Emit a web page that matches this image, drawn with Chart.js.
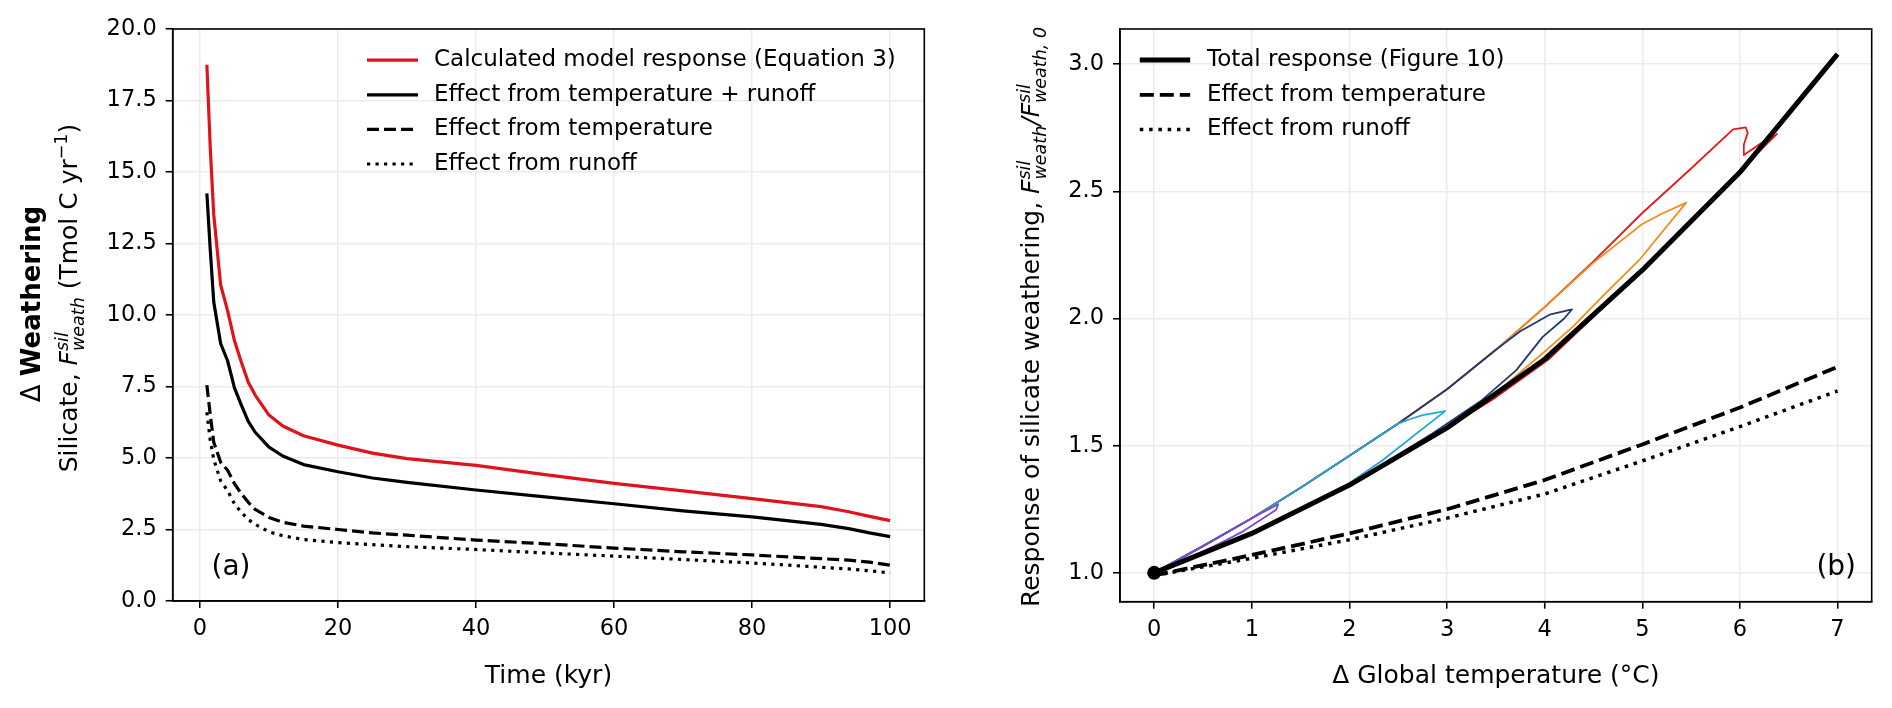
<!DOCTYPE html>
<html>
<head>
<meta charset="utf-8">
<script src="https://cdn.jsdelivr.net/npm/chart.js@4.4.1/dist/chart.umd.min.js"></script>
<style>
  html, body { margin: 0; padding: 0; background: #fff; }
  #wrap { position: relative; width: 1892px; height: 708px; }
  canvas { position: absolute; top: 0; }
  #leftCanvas { left: 0; }
  #rightCanvas { left: 946px; }
</style>
</head>
<body>
<div id="wrap">
  <canvas id="leftCanvas" width="946" height="708"></canvas>
  <canvas id="rightCanvas" width="946" height="708"></canvas>
</div>
<script>
// ==========================================================
// Panel (a) data - weathering vs time
// ==========================================================
const timeKyr       = [1, 1.5, 2, 3, 4, 5, 6, 7, 8, 10, 12, 15, 20, 25, 30, 40, 50, 60, 70, 80, 90, 94, 97, 100];
const modelResponse = [18.75, 15.8, 13.5, 11.05, 10.15, 9.1, 8.35, 7.65, 7.2, 6.5, 6.12, 5.78, 5.45, 5.17, 4.98, 4.74, 4.42, 4.11, 3.85, 3.58, 3.3, 3.12, 2.96, 2.81];
const tempRunoff    = [14.25, 12.25, 10.45, 9.0, 8.4, 7.45, 6.85, 6.28, 5.9, 5.38, 5.07, 4.77, 4.52, 4.3, 4.15, 3.88, 3.64, 3.4, 3.15, 2.94, 2.68, 2.53, 2.38, 2.25];
const tempEffect    = [7.55, 6.5, 5.55, 4.85, 4.57, 4.1, 3.75, 3.45, 3.2, 2.92, 2.75, 2.62, 2.5, 2.38, 2.3, 2.13, 2.0, 1.85, 1.72, 1.61, 1.48, 1.43, 1.36, 1.25];
const runoffEffect  = [6.6, 5.6, 4.95, 4.2, 3.86, 3.4, 3.1, 2.85, 2.68, 2.42, 2.28, 2.15, 2.04, 1.97, 1.9, 1.8, 1.68, 1.57, 1.45, 1.33, 1.18, 1.12, 1.06, 0.98];
const timeTicks     = [0, 20, 40, 60, 80, 100];
const weathTicks    = [0, 2.5, 5, 7.5, 10, 12.5, 15, 17.5, 20];

// ==========================================================
// Panel (b) data - response vs warming
// ==========================================================
const tempC        = [0, 1, 2, 3, 4, 5, 6, 7];
const totalResp    = [1.0, 1.155, 1.345, 1.57, 1.84, 2.19, 2.575, 3.04];
const tempOnly     = [0.99, 1.07, 1.155, 1.25, 1.365, 1.505, 1.65, 1.81];
const runoffOnly   = [0.99, 1.057, 1.13, 1.215, 1.31, 1.44, 1.575, 1.715];
const originT      = [0];
const originR      = [1.0];

const loopPurpleT = [0, 0.5, 1.0, 1.27, 1.25, 0.9, 0.73, 0.4, 0];
const loopPurpleR = [1.0, 1.105, 1.215, 1.27, 1.248, 1.161, 1.127, 1.065, 1.0];
const loopCyanT   = [0, 0.5, 1.0, 1.5, 2.0, 2.5, 2.61, 2.75, 2.98, 2.34, 1.99, 1.5, 1.0, 0.5, 0];
const loopCyanR   = [1.0, 1.105, 1.215, 1.335, 1.46, 1.587, 1.603, 1.62, 1.636, 1.443, 1.35, 1.252, 1.157, 1.079, 1.0];
const loopNavyT   = [0, 0.5, 1.0, 1.5, 2.0, 2.5, 3.0, 3.5, 3.75, 4.05, 4.28, 4.2, 3.98, 3.71, 3.36, 2.85, 2.0, 1.0, 0];
const loopNavyR   = [1.0, 1.105, 1.215, 1.335, 1.46, 1.587, 1.722, 1.877, 1.95, 2.015, 2.036, 2.0, 1.928, 1.797, 1.68, 1.548, 1.347, 1.157, 1.0];
const loopOrangeT = [0, 0.5, 1.0, 1.5, 2.0, 2.5, 3.0, 3.5, 4.0, 4.5, 5.0, 5.2, 5.45, 4.98, 4.6, 4.29, 4.0, 3.57, 3.0, 2.0, 1.0, 0];
const loopOrangeR = [1.0, 1.105, 1.215, 1.335, 1.46, 1.587, 1.722, 1.877, 2.045, 2.22, 2.372, 2.412, 2.456, 2.235, 2.09, 1.968, 1.87, 1.73, 1.572, 1.347, 1.157, 1.0];
const loopRedT    = [0, 0.5, 1.0, 1.5, 2.0, 2.5, 3.0, 3.5, 4.0, 4.5, 5.0, 5.5, 5.93, 6.06, 6.08, 6.04, 6.04, 6.22, 6.38, 6.1, 5.0, 4.05, 3.9, 3.5, 3.0, 2.0, 1.0, 0];
const loopRedR    = [1.0, 1.105, 1.215, 1.335, 1.46, 1.587, 1.722, 1.877, 2.045, 2.225, 2.415, 2.59, 2.744, 2.752, 2.73, 2.683, 2.643, 2.69, 2.726, 2.62, 2.19, 1.842, 1.8, 1.69, 1.57, 1.345, 1.155, 1.0];
const tempTicks   = [0, 1, 2, 3, 4, 5, 6, 7];
const respTicks   = [1.0, 1.5, 2.0, 2.5, 3.0];

// ==========================================================
// helpers
// ==========================================================
const FONT = "DejaVu Sans";
const RED = "#e0131d";

function toXY(xs, ys) {
  return xs.map((x, i) => ({ x: x, y: ys[i] }));
}

function fontOf(p) {
  return `${p.style || "normal"} ${p.weight || "normal"} ${p.size}px "${FONT}"`;
}

function partWidth(ctx, p) {
  if (p.stack) {
    return Math.max(...p.stack.map((q) => {
      ctx.font = fontOf(q);
      return ctx.measureText(q.text).width;
    }));
  }
  ctx.font = fontOf(p);
  return ctx.measureText(p.text).width;
}

// draws one line of mixed text rotated 90deg, baseline at baseX, centred on centerY
function drawRotatedLine(ctx, parts, baseX, centerY) {
  ctx.save();
  ctx.translate(baseX, centerY);
  ctx.rotate(-Math.PI / 2);
  ctx.textBaseline = "alphabetic";
  ctx.textAlign = "left";
  ctx.fillStyle = "#000";
  const total = parts.reduce((s, p) => s + partWidth(ctx, p), 0);
  let x = -total / 2;
  parts.forEach((p) => {
    const w = partWidth(ctx, p);
    (p.stack || [p]).forEach((q) => {
      ctx.font = fontOf(q);
      ctx.fillText(q.text, x, q.dy || 0);
    });
    x += w;
  });
  ctx.restore();
}

const framePlugin = {
  id: "frame",
  afterDraw(chart) {
    const { ctx, chartArea: a } = chart;
    ctx.save();
    ctx.strokeStyle = "#000";
    ctx.lineWidth = 1.6;
    ctx.strokeRect(a.left, a.top, a.right - a.left, a.bottom - a.top);
    ctx.restore();
  },
};

const insideLegend = {
  id: "insideLegend",
  afterDraw(chart, args, opts) {
    const ctx = chart.ctx;
    ctx.save();
    ctx.font = `23px "${FONT}"`;
    ctx.textBaseline = "middle";
    ctx.textAlign = "left";
    opts.items.forEach((it, i) => {
      const y = opts.y + i * opts.rowGap;
      ctx.beginPath();
      ctx.strokeStyle = it.color;
      ctx.lineWidth = it.width;
      ctx.setLineDash(it.dash || []);
      ctx.moveTo(opts.x0, y);
      ctx.lineTo(opts.x1, y);
      ctx.stroke();
      ctx.setLineDash([]);
      ctx.fillStyle = "#000";
      ctx.fillText(it.text, opts.textX, y);
    });
    ctx.restore();
  },
};

const richTitles = {
  id: "richTitles",
  afterDraw(chart, args, opts) {
    const ctx = chart.ctx;
    opts.lines.forEach((l) => drawRotatedLine(ctx, l.parts, l.x, l.y));
    ctx.save();
    ctx.font = `28px "${FONT}"`;
    ctx.fillStyle = "#000";
    ctx.textBaseline = "alphabetic";
    ctx.textAlign = opts.tag.align;
    ctx.fillText(opts.tag.text, opts.tag.x, opts.tag.y);
    ctx.restore();
  },
};

function axisX(min, max, ticks, title) {
  return {
    type: "linear",
    min: min,
    max: max,
    afterBuildTicks: (s) => { s.ticks = ticks.map((v) => ({ value: v })); },
    afterFit: (s) => { s.height = 90; },
    grid: { color: "#ebebeb", lineWidth: 1.5, tickColor: "#000", tickWidth: 1.6, tickLength: 7 },
    border: { color: "#000", width: 1.6 },
    ticks: { font: { family: FONT, size: 22.5 }, color: "#000", padding: 8, maxRotation: 0, autoSkip: false,
             callback: (v) => String(v) },
    title: { display: true, text: title, font: { family: FONT, size: 25 }, color: "#000", padding: 0 },
  };
}

function axisY(min, max, ticks) {
  return {
    type: "linear",
    min: min,
    max: max,
    afterBuildTicks: (s) => { s.ticks = ticks.map((v) => ({ value: v })); },
    afterFit: (s) => { s.width = 70; },
    grid: { color: "#ebebeb", lineWidth: 1.5, tickColor: "#000", tickWidth: 1.6, tickLength: 7 },
    border: { color: "#000", width: 1.6 },
    ticks: { font: { family: FONT, size: 22.5 }, color: "#000", padding: 9, autoSkip: false,
             callback: (v) => v.toFixed(1) },
  };
}

function line(data, color, width, dash) {
  return {
    data: data,
    showLine: true,
    borderColor: color,
    backgroundColor: color,
    borderWidth: width,
    borderDash: dash || [],
    pointRadius: 0,
    pointHoverRadius: 0,
    fill: false,
    borderJoinStyle: "round",
  };
}

// ==========================================================
// Panel (a)
// ==========================================================
new Chart(document.getElementById("leftCanvas"), {
  type: "scatter",
  data: {
    datasets: [
      line(toXY(timeKyr, modelResponse), RED, 3.2),
      line(toXY(timeKyr, tempRunoff), "#000", 3.2),
      line(toXY(timeKyr, tempEffect), "#000", 3.2, [12, 5]),
      line(toXY(timeKyr, runoffEffect), "#000", 3.2, [3.2, 5.3]),
    ],
  },
  options: {
    responsive: false,
    animation: false,
    events: [],
    layout: { padding: { left: 102.7, right: 21.7, top: 29, bottom: 17 } },
    plugins: {
      legend: { display: false },
      tooltip: { enabled: false },
      insideLegend: {
        x0: 367, x1: 418, textX: 434, y: 60.2, rowGap: 34.6,
        items: [
          { text: "Calculated model response (Equation 3)", color: RED, width: 3.2 },
          { text: "Effect from temperature + runoff", color: "#000", width: 3.2 },
          { text: "Effect from temperature", color: "#000", width: 3.2, dash: [12, 5] },
          { text: "Effect from runoff", color: "#000", width: 3.2, dash: [3.2, 5.3] },
        ],
      },
      richTitles: {
        lines: [
          { x: 40, y: 304, parts: [
            { text: "\u0394 ", size: 26 },
            { text: "Weathering", size: 26, weight: "bold" },
          ] },
          { x: 77, y: 298, parts: [
            { text: "Silicate, ", size: 25 },
            { text: "F", size: 25, style: "italic" },
            { stack: [
              { text: "sil", size: 17.5, style: "italic", dy: -9.5 },
              { text: "weath", size: 17.5, style: "italic", dy: 6.5 },
            ] },
            { text: " (Tmol C yr", size: 25 },
            { text: "\u22121", size: 17.5, dy: -10 },
            { text: ")", size: 25 },
          ] },
        ],
        tag: { text: "(a)", x: 211.5, y: 575.3, align: "left" },
      },
    },
    scales: {
      x: axisX(-3.95, 104.95, timeTicks, "Time (kyr)"),
      y: axisY(0, 20, weathTicks),
    },
  },
  plugins: [framePlugin, insideLegend, richTitles],
});

// ==========================================================
// Panel (b)
// ==========================================================
const originSet = line(toXY(originT, originR), "#000", 0);
originSet.showLine = false;
originSet.pointRadius = 7;

new Chart(document.getElementById("rightCanvas"), {
  type: "scatter",
  data: {
    datasets: [
      originSet,
      line(toXY(tempC, totalResp), "#000", 5),
      line(toXY(tempC, tempOnly), "#000", 3.8, [14, 6]),
      line(toXY(tempC, runoffOnly), "#000", 3.5, [3.5, 5.8]),
      line(toXY(loopPurpleT, loopPurpleR), "#8047c8", 1.8),
      line(toXY(loopCyanT, loopCyanR), "#22a7d8", 1.8),
      line(toXY(loopNavyT, loopNavyR), "#1f3a73", 1.8),
      line(toXY(loopOrangeT, loopOrangeR), "#f28e1c", 1.8),
      line(toXY(loopRedT, loopRedR), "#e31a1c", 1.8),
    ],
  },
  options: {
    responsive: false,
    animation: false,
    events: [],
    layout: { padding: { left: 104, right: 20.3, top: 29, bottom: 16.3 } },
    plugins: {
      legend: { display: false },
      tooltip: { enabled: false },
      insideLegend: {
        x0: 193.8, x1: 244.2, textX: 261, y: 60.1, rowGap: 34.7,
        items: [
          { text: "Total response (Figure 10)", color: "#000", width: 5 },
          { text: "Effect from temperature", color: "#000", width: 3.8, dash: [14, 6] },
          { text: "Effect from runoff", color: "#000", width: 3.5, dash: [3.5, 5.8] },
        ],
      },
      richTitles: {
        lines: [
          { x: 93, y: 317, parts: [
            { text: "Response of silicate weathering, ", size: 25 },
            { text: "F", size: 25, style: "italic" },
            { stack: [
              { text: "sil", size: 17.5, style: "italic", dy: -9.5 },
              { text: "weath", size: 17.5, style: "italic", dy: 6.5 },
            ] },
            { text: "/", size: 25, style: "italic" },
            { text: "F", size: 25, style: "italic" },
            { stack: [
              { text: "sil", size: 17.5, style: "italic", dy: -9.5 },
              { text: "weath, 0", size: 17.5, style: "italic", dy: 6.5 },
            ] },
          ] },
        ],
        tag: { text: "(b)", x: 910, y: 575.3, align: "right" },
      },
    },
    scales: {
      x: axisX(-0.35, 7.35, tempTicks, "\u0394 Global temperature (\u00b0C)"),
      y: axisY(0.8865, 3.1385, respTicks),
    },
  },
  plugins: [framePlugin, insideLegend, richTitles],
});
</script>
</body>
</html>
